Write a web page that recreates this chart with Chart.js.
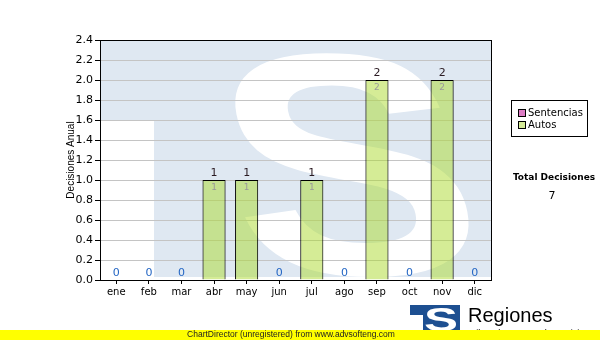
<!DOCTYPE html>
<html>
<head>
<meta charset="utf-8">
<script src="https://cdn.jsdelivr.net/npm/chart.js@4.4.1/dist/chart.umd.min.js"></script>
<style>
  html, body { margin: 0; padding: 0; background: #ffffff; }
  #wrap { width: 600px; height: 340px; position: relative; }
</style>
</head>
<body>
<div id="wrap"><canvas id="c" width="600" height="340"></canvas></div>
<script>
// ---- data ----
const categories = ['ene', 'feb', 'mar', 'abr', 'may', 'jun', 'jul', 'ago', 'sep', 'oct', 'nov', 'dic'];
const sentencias = [0, 0, 0, 0, 0, 0, 0, 0, 0, 0, 0, 0];
const autos      = [0, 0, 0, 1, 1, 0, 1, 0, 2, 0, 2, 0];
const seriesNames = ['Sentencias', 'Autos'];
const yAxisTitle = 'Decisiones Anual';
const totalTitle = 'Total Decisiones';
const yMin = 0, yMax = 2.4, yStep = 0.2;
const footerText = 'ChartDirector (unregistered) from www.advsofteng.com';
const logoText = 'Regiones';
const logoSub = 'Tribunal Supremo de Justicia';

const SENT_COLOR = '#dc7cc4';
const AUTOS_COLOR = 'rgba(171,217,45,0.5)';
const AUTOS_LEGEND = '#d6ec98';
const WM_BLUE = '#dfe8f2';
const FONT = '"Liberation Sans", Arial, sans-serif';
const FONT2 = '"DejaVu Sans", Verdana, sans-serif';

const decor = {
  id: 'decor',
  beforeDraw(chart) {
    const ctx = chart.ctx, a = chart.chartArea;
    ctx.save();
    ctx.beginPath();
    ctx.rect(a.left, a.top, a.right - a.left, a.bottom - a.top);
    ctx.clip();
    // watermark: blue "T" shaped block with white S
    const y16 = chart.scales.y.getPixelForValue(1.6);
    ctx.fillStyle = WM_BLUE;
    ctx.fillRect(a.left, a.top, a.right - a.left, y16 - a.top);
    ctx.fillRect(a.left + 54, y16, a.right - a.left - 54, (a.bottom - 3) - y16);
    ctx.fillStyle = '#ffffff';
    ctx.translate(a.left + 270, a.bottom - 6);
    ctx.transform(1, 0, 0.2, 1, 0, 0);
    ctx.scale(1.18, 1);
    ctx.font = 'bold 316px ' + FONT;
    ctx.textAlign = 'center';
    ctx.textBaseline = 'alphabetic';
    ctx.fillText('S', 0, 0);
    ctx.restore();
  },
  afterDatasetsDraw(chart) {
    const ctx = chart.ctx, a = chart.chartArea;
    ctx.save();
    // plot frame
    ctx.strokeStyle = '#000';
    ctx.lineWidth = 1;
    ctx.strokeRect(Math.round(a.left) + 0.5, Math.round(a.top) + 0.5,
                   Math.round(a.right - a.left), Math.round(a.bottom - a.top));
    // value labels
    const meta = chart.getDatasetMeta(1);
    ctx.textAlign = 'center';
    meta.data.forEach((bar, i) => {
      const total = sentencias[i] + autos[i];
      ctx.font = '11px ' + FONT2;
      ctx.textBaseline = 'bottom';
      ctx.fillStyle = total === 0 ? '#2466c4' : '#2a1a22';
      ctx.fillText(String(total), bar.x, bar.y - 1);
      if (autos[i] > 0) {
        ctx.font = '9px ' + FONT2;
        ctx.textBaseline = 'top';
        ctx.fillStyle = '#9a9a9a';
        ctx.fillText(String(autos[i]), bar.x, bar.y + 3);
      }
    });
    ctx.restore();
  },
  afterDraw(chart) {
    const ctx = chart.ctx, a = chart.chartArea;
    ctx.save();
    // y axis title
    ctx.save();
    ctx.translate(71, (a.top + a.bottom) / 2);
    ctx.rotate(-Math.PI / 2);
    ctx.font = '10px ' + FONT;
    ctx.fillStyle = '#000';
    ctx.textAlign = 'center';
    ctx.textBaseline = 'middle';
    ctx.fillText(yAxisTitle, 0, 0);
    ctx.restore();
    // legend
    ctx.fillStyle = '#fff';
    ctx.fillRect(511, 100, 77, 36);
    ctx.strokeStyle = '#000';
    ctx.lineWidth = 1;
    ctx.strokeRect(511.5, 100.5, 76, 36);
    const legendColors = [SENT_COLOR, AUTOS_LEGEND];
    seriesNames.forEach((n, k) => {
      const y = 109 + k * 12;
      ctx.fillStyle = legendColors[k];
      ctx.fillRect(518, y, 7, 7);
      ctx.strokeStyle = '#000';
      ctx.strokeRect(518.5, y + 0.5, 7, 7);
      ctx.fillStyle = '#000';
      ctx.font = '10px ' + FONT2;
      ctx.textAlign = 'left';
      ctx.textBaseline = 'middle';
      ctx.fillText(n, 528, y + 4);
    });
    // total
    const total = sentencias.concat(autos).reduce((s, v) => s + v, 0);
    ctx.textAlign = 'center';
    ctx.textBaseline = 'middle';
    ctx.fillStyle = '#000';
    ctx.font = 'bold 9px ' + FONT2;
    ctx.fillText(totalTitle, 554, 178);
    ctx.font = '11px ' + FONT2;
    ctx.fillText(String(total), 552, 196);
    // bottom logo
    ctx.fillStyle = '#1d4f91';
    ctx.fillRect(410, 305, 50, 10);
    ctx.fillRect(423, 305, 37, 26);
    ctx.save();
    ctx.beginPath();
    ctx.rect(410, 305, 50, 26);
    ctx.clip();
    ctx.fillStyle = '#fff';
    ctx.translate(441, 331);
    ctx.scale(1.5, 1);
    ctx.font = 'bold 34px ' + FONT;
    ctx.textAlign = 'center';
    ctx.textBaseline = 'alphabetic';
    ctx.fillText('S', 0, 0);
    ctx.restore();
    ctx.fillStyle = '#000';
    ctx.font = '20px ' + FONT;
    ctx.textAlign = 'left';
    ctx.textBaseline = 'alphabetic';
    ctx.fillText(logoText, 468, 322);
    ctx.font = '9px ' + FONT;
    ctx.fillText(logoSub, 468, 336);
    // footer bar
    ctx.fillStyle = '#ffff00';
    ctx.fillRect(0, 330, 600, 10);
    ctx.fillStyle = '#222';
    ctx.font = '8.5px ' + FONT;
    ctx.textAlign = 'center';
    ctx.textBaseline = 'middle';
    ctx.fillText(footerText, 291, 335);
    ctx.restore();
  }
};

new Chart(document.getElementById('c'), {
  type: 'bar',
  data: {
    labels: categories,
    datasets: [
      { label: seriesNames[0], data: sentencias, backgroundColor: SENT_COLOR, borderWidth: 0 },
      { label: seriesNames[1], data: autos, backgroundColor: AUTOS_COLOR, borderColor: '#000', borderWidth: 1 }
    ]
  },
  options: {
    responsive: false,
    animation: false,
    events: [],
    layout: { padding: { left: 0, right: 109, top: 40, bottom: 40 } },
    datasets: { bar: { categoryPercentage: 0.71, barPercentage: 1.0 } },
    plugins: { legend: { display: false }, tooltip: { enabled: false } },
    scales: {
      x: {
        stacked: true,
        afterFit(s) { s.height = 20; },
        grid: { offset: false, drawOnChartArea: false, drawTicks: true, tickLength: 4, tickColor: '#000' },
        border: { color: '#000', width: 1 },
        ticks: { color: '#000', font: { family: FONT2, size: 10 }, padding: 2, maxRotation: 0 }
      },
      y: {
        stacked: true,
        min: yMin, max: yMax,
        afterFit(s) { s.width = 100; },
        grid: { color: '#c4c4c4', tickColor: '#000', tickLength: 5, lineWidth: 1 },
        border: { color: '#000', width: 1 },
        ticks: {
          stepSize: yStep, color: '#000', padding: 2,
          font: { family: FONT2, size: 11 },
          callback: v => Number(v).toFixed(1)
        }
      }
    }
  },
  plugins: [decor]
});
</script>
</body>
</html>
